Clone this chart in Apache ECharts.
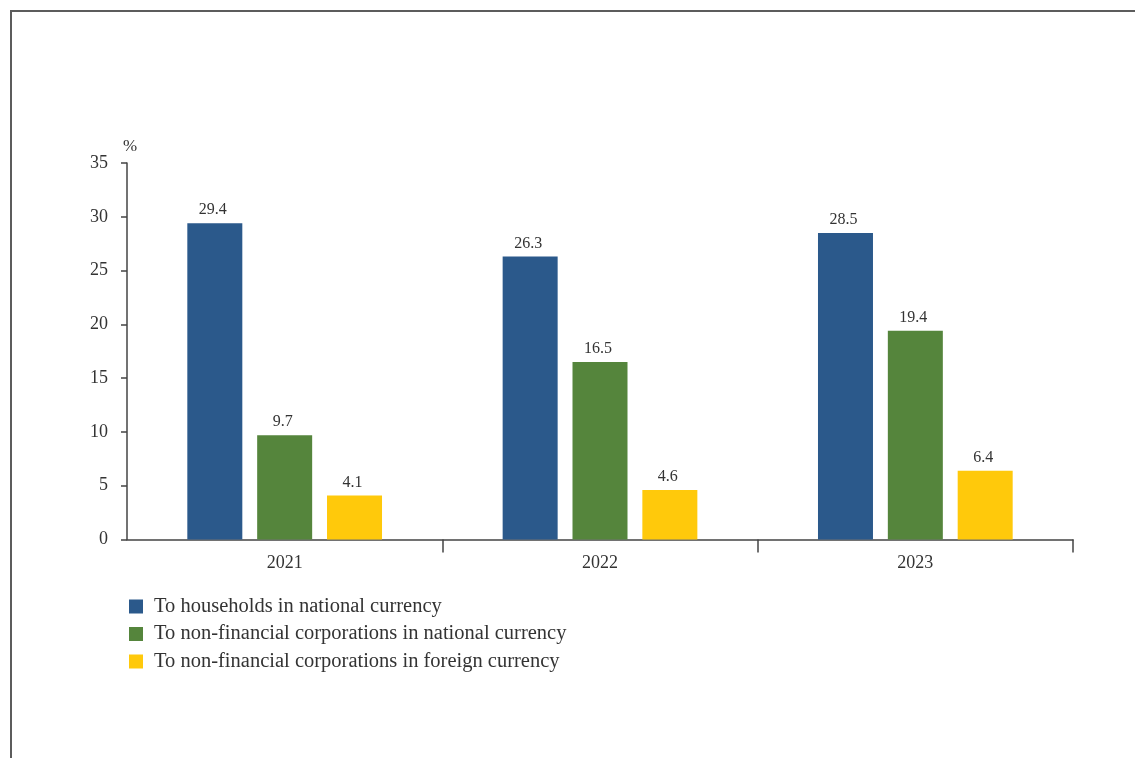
<!DOCTYPE html>
<html>
<head>
<meta charset="utf-8">
<script src="https://cdn.jsdelivr.net/npm/echarts@6/dist/echarts.min.js"></script>
<style>
  html, body { margin: 0; padding: 0; background: #fff; }
  #frame {
    position: absolute; left: 10px; top: 10px; width: 1125px; height: 748px;
    border-top: 2px solid #5c5c5c; border-left: 2px solid #5c5c5c; box-sizing: border-box;
  }
  #chart { position: absolute; left: 0; top: 0; width: 1135px; height: 758px; }
</style>
</head>
<body>
<div id="frame"></div>
<div id="chart"></div>
<script>
const years = ['2021', '2022', '2023'];
const seriesNames = [
  'To households in national currency',
  'To non-financial corporations in national currency',
  'To non-financial corporations in foreign currency'
];
const households = [29.4, 26.3, 28.5];
const corporatesNational = [9.7, 16.5, 19.4];
const corporatesForeign = [4.1, 4.6, 6.4];
const yTicks = [0, 5, 10, 15, 20, 25, 30, 35];

const palette = ['#2b598b', '#55853c', '#ffc90b'];
const serif = '"Liberation Serif", "DejaVu Serif", serif';
const textColor = '#333';
const axisColor = '#444';

function barSeries(name, values, color) {
  return {
    name: name,
    type: 'bar',
    data: values,
    barWidth: 55,
    barGap: '27%',
    itemStyle: { color: color },
    label: {
      show: true,
      position: 'top',
      distance: 5,
      offset: [-2, 0],
      color: textColor,
      fontFamily: serif,
      fontSize: 16,
      formatter: p => p.value.toFixed(1)
    }
  };
}

const chart = echarts.init(document.getElementById('chart'), null, { renderer: 'canvas' });
chart.setOption({
  animation: false,
  backgroundColor: 'transparent',
  grid: { left: 127, right: 62, top: 163, bottom: 218.5, containLabel: false },
  legend: {
    orient: 'vertical',
    left: 129,
    top: 596,
    padding: 0,
    icon: 'rect',
    itemWidth: 14,
    itemHeight: 14,
    itemGap: 6.5,
    selectedMode: false,
    data: seriesNames,
    textStyle: {
      fontFamily: serif,
      fontSize: 20.5,
      lineHeight: 20,
      color: textColor,
      padding: [0, 0, 0, 6]
    }
  },
  xAxis: {
    type: 'category',
    data: years,
    boundaryGap: true,
    axisLine: { lineStyle: { color: axisColor, width: 1.5 } },
    axisTick: {
      show: true,
      length: 13,
      interval: (i) => i > 0,
      lineStyle: { color: axisColor, width: 1.5 }
    },
    axisLabel: { color: textColor, fontFamily: serif, fontSize: 18, margin: 15 }
  },
  yAxis: {
    type: 'value',
    min: yTicks[0],
    max: yTicks[yTicks.length - 1],
    interval: 5,
    name: '%',
    nameLocation: 'end',
    nameGap: 8,
    nameTextStyle: { color: textColor, fontFamily: serif, fontSize: 17, padding: [0, 0, 0, 6] },
    axisLine: { show: true, lineStyle: { color: axisColor, width: 1.5 } },
    axisTick: { show: true, length: 6, lineStyle: { color: axisColor, width: 1.5 } },
    splitLine: { show: false },
    axisLabel: { color: textColor, fontFamily: serif, fontSize: 18, margin: 19 }
  },
  series: [
    barSeries(seriesNames[0], households, palette[0]),
    barSeries(seriesNames[1], corporatesNational, palette[1]),
    barSeries(seriesNames[2], corporatesForeign, palette[2])
  ]
});
</script>
</body>
</html>
